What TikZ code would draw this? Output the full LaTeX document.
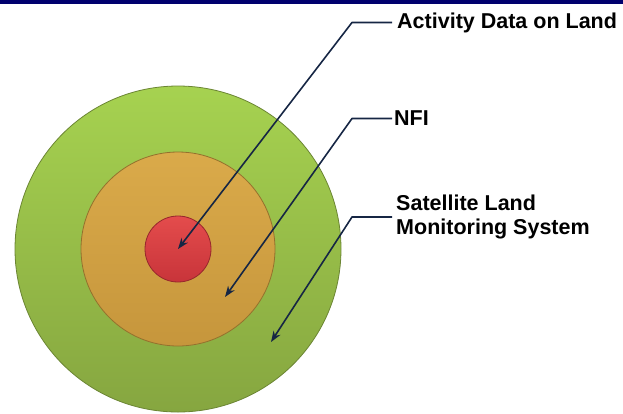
\documentclass[tikz,border=0pt]{standalone}
\usepackage{fontspec}
\setmainfont{Liberation Sans}
\usetikzlibrary{arrows.meta}

\definecolor{bandblue}{RGB}{0,0,110}
\definecolor{linkblue}{RGB}{22,38,68}
\definecolor{greentop}{RGB}{166,210,80}
\definecolor{greenbot}{RGB}{134,166,64}
\definecolor{orangetop}{RGB}{218,170,74}
\definecolor{orangebot}{RGB}{198,150,60}
\definecolor{redtop}{RGB}{228,76,76}
\definecolor{redbot}{RGB}{200,52,58}

\begin{document}
\begin{tikzpicture}[x=1pt, y=-1pt,
    ring/.style = {circle, inner sep=0pt, line width=0.8pt},
    main/.style = {draw=none, inner sep=0pt, anchor=west, align=left,
                   font=\bfseries\fontsize{21.5}{24.5}\selectfont},
    ptr/.style  = {draw=linkblue, line width=1.6pt, line join=round,
                   -{Stealth[length=11pt, width=8pt]}}]
        \useasboundingbox (0,0) rectangle (623,413);
        \clip (0,0) rectangle (623,413);
        \fill[bandblue] (0,0) rectangle (623,3.5);

        \node[ring, minimum size=326pt, draw=greenbot!80!black,
              top color=greentop, bottom color=greenbot] (3) at (178,249) {};
        \node[ring, minimum size=194pt, draw=orangebot!75!black,
              top color=orangetop, bottom color=orangebot] (2) at (178,249) {};
        \node[ring, minimum size=66pt, draw=redbot!75!black,
              top color=redtop, bottom color=redbot] (1) at (178,249) {};

        \node[main] (4) at (397,22.5) {Activity Data on Land};
        \node[main] (5) at (394,118.5) {NFI};
        \node[main] (6) at (396,217) {Satellite Land\\Monitoring System};

        \coordinate (p2) at (225,297);
        \coordinate (p3) at (271,342);

        \draw[ptr] ([xshift=-5pt]4.west) -- ++(-40,0) -- (1.center);
        \draw[ptr] ([xshift=-2pt]5.west) -- ++(-40,0) -- (p2);
        \draw[ptr] ([xshift=-4pt]6.west) -- ++(-40,0) -- (p3);
\end{tikzpicture}
\end{document}
